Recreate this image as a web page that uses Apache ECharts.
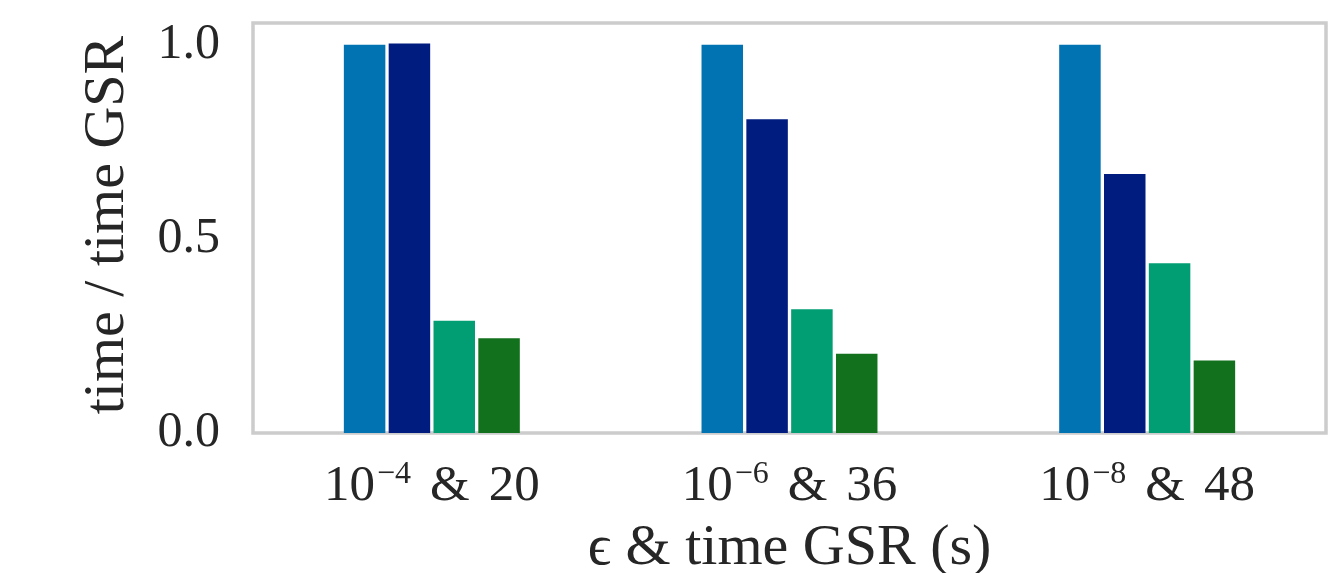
<!DOCTYPE html>
<html>
<head>
<meta charset="utf-8">
<script src="https://cdn.jsdelivr.net/npm/echarts@6/dist/echarts.min.js"></script>
<style>
html, body { margin: 0; padding: 0; background: #fff; }
#main { width: 1339px; height: 573px; }
</style>
</head>
<body>
<div id="main"></div>
<script>
// categories: epsilon exponent & time of GSR
var epsExp = ['−4', '−6', '−8'];
var gsrTime = [20, 36, 48];
var categories = ['10^−4 & 20', '10^−6 & 36', '10^−8 & 48'];

// time / time GSR, one array per bar colour
var seriesNames = ['GSR', 'method 1', 'method 2', 'method 3'];
var valGSR = [1.0, 1.0, 1.0];
var valM1 = [1.003, 0.808, 0.667];
var valM2 = [0.289, 0.319, 0.437];
var valM3 = [0.244, 0.204, 0.187];

var yTicks = [0, 0.5, 1.0];

var font = 'Liberation Serif';
var textColor = '#262626';
var colors = ['#0173b2', '#001c7f', '#029e73', '#12711c'];

var chart = echarts.init(document.getElementById('main'));

function bar(name, data, color) {
    return {
        name: name,
        type: 'bar',
        data: data,
        barWidth: 41.5,
        barGap: '8%',
        itemStyle: { color: color }
    };
}

var option = {
    animation: false,
    backgroundColor: '#fff',
    textStyle: { fontFamily: font, color: textColor },
    grid: {
        left: 253,
        right: 13,
        top: 23,
        bottom: 140,
        outerBoundsMode: 'none',
        containLabel: false,
        show: true,
        borderColor: '#cccccc',
        borderWidth: 3.5,
        backgroundColor: 'transparent'
    },
    xAxis: {
        type: 'category',
        data: categories,
        axisLine: { show: false },
        axisTick: { show: false },
        splitLine: { show: false },
        name: 'ϵ & time GSR (s)',
        nameLocation: 'middle',
        nameGap: 80,
        nameTextStyle: { fontFamily: font, fontSize: 58, color: textColor },
        axisLabel: {
            margin: 26,
            formatter: function (v, i) {
                return '{b|10}{sup|' + epsExp[i] + '}{amp|&}{b|' + gsrTime[i] + '}';
            },
            rich: {
                b: { fontFamily: font, fontSize: 51, color: textColor, lineHeight: 56 },
                amp: { fontFamily: font, fontSize: 51, color: textColor, lineHeight: 56, padding: [0, 19, 0, 19] },
                sup: { fontFamily: font, fontSize: 32, color: textColor, verticalAlign: 'top', lineHeight: 32, padding: [0, 0, 24, 2] }
            }
        }
    },
    yAxis: {
        type: 'value',
        min: 0,
        max: 1.056,
        interval: 0.5,
        axisLine: { show: false },
        axisTick: { show: false },
        splitLine: { show: false },
        name: 'time / time GSR',
        nameLocation: 'middle',
        nameGap: 116,
        nameTextStyle: { fontFamily: font, fontSize: 58, color: textColor, padding: [0, 0, 0, 6] },
        axisLabel: {
            margin: 33,
            showMaxLabel: false,
            fontFamily: font,
            fontSize: 50,
            color: textColor,
            formatter: function (v) {
                return yTicks.indexOf(v) >= 0 ? v.toFixed(1) : '';
            }
        }
    },
    series: [
        bar(seriesNames[0], valGSR, colors[0]),
        bar(seriesNames[1], valM1, colors[1]),
        bar(seriesNames[2], valM2, colors[2]),
        bar(seriesNames[3], valM3, colors[3])
    ]
};

chart.setOption(option);
</script>
</body>
</html>
